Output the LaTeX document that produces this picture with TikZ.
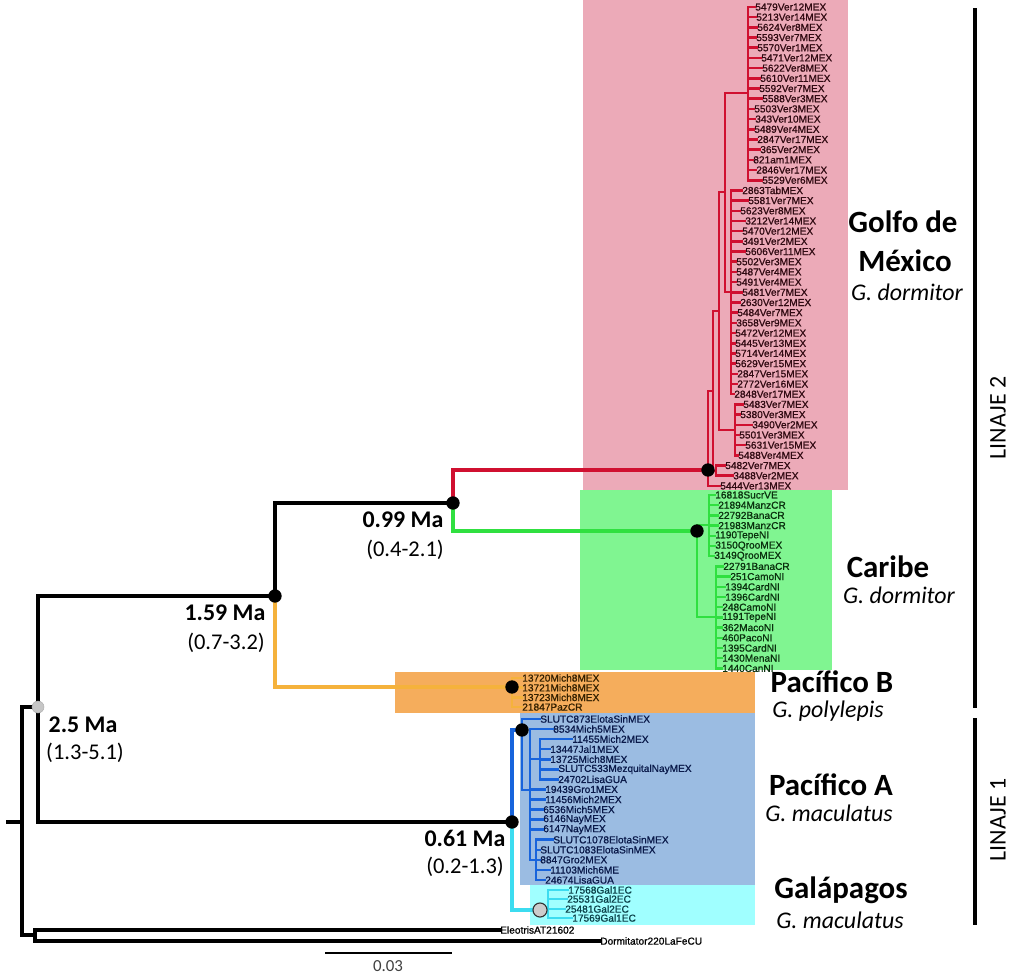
\documentclass[tikz,border=0pt]{standalone}
\usepackage{fontspec}
\setmainfont{Carlito}
\newfontfamily\tipfont[FakeBold=1]{Liberation Sans}
\usetikzlibrary{positioning}

\definecolor{golfobox}{HTML}{ECAAB8}
\definecolor{caribox}{HTML}{80F591}
\definecolor{pacbbox}{HTML}{F5AD5C}
\definecolor{pacabox}{HTML}{9BBCE2}
\definecolor{galbox}{HTML}{A0FFFF}
\definecolor{golfobr}{HTML}{D01030}
\definecolor{caribr}{HTML}{30E040}
\definecolor{pacbbr}{HTML}{F5B23C}
\definecolor{pacabr}{HTML}{1864DC}
\definecolor{galbr}{HTML}{3CDCF0}
\definecolor{golfotxt}{HTML}{300A12}
\definecolor{caritxt}{HTML}{0A300E}
\definecolor{pacbtxt}{HTML}{332000}
\definecolor{pacatxt}{HTML}{0A1A4A}
\definecolor{galtxt}{HTML}{0A4048}

\begin{document}
\begin{tikzpicture}[
    x=0.025cm, y=-0.025cm,
    br/.style={line width=2.2pt, line cap=rect},
    tipbr/.style={line width=1.8pt, line cap=rect},
    tip/.style={anchor=west, inner sep=0pt,
                font=\tipfont\fontsize{7.2}{7.2}\selectfont},
    dot/.style={circle, fill=black, inner sep=0pt, minimum size=9.5pt},
    age/.style={font=\fontsize{17}{17}\selectfont\bfseries},
    hpd/.style={font=\fontsize{16}{16}\selectfont},
    clade/.style={inner sep=0pt, font=\fontsize{22}{22}\selectfont\bfseries},
    species/.style={inner sep=0pt, font=\fontsize{17}{17}\selectfont\itshape},
    linaje/.style={font=\fontsize{17}{17}\selectfont, rotate=90}
  ]
  \useasboundingbox (0,0) rectangle (1016,975);

  % clade boxes
  \fill[golfobox] (583,0) rectangle (848,490);
  \fill[caribox] (580,490) rectangle (832,670);
  \fill[pacbbox] (395,672) rectangle (755,713);
  \fill[pacabox] (520,713) rectangle (755,885);
  \fill[galbox] (530,885) rectangle (755,925);

  % main nodes
  \coordinate (nRoot) at (22,822);
  \coordinate (nIn) at (38,707);
  \coordinate (nOut) at (35,935);
  \coordinate (nL2) at (275,596);
  \coordinate (nGC) at (453,503);
  \coordinate (nGolfo) at (708,470);
  \coordinate (nCar) at (697,531);
  \coordinate (nPB) at (512,687);
  \coordinate (nL1) at (512,822);
  \coordinate (nPA) at (522,730);
  \coordinate (nGal) at (540,910);

  % backbone
  \draw[br] (8,822) -- (nRoot);
  \draw[br] (nIn) -| (nRoot);
  \draw[br] (nOut) -| (nRoot);
  \draw[br] (nIn) |- (nL2);
  \draw[br] (nIn) |- (nL1);
  \draw[br] (nL2) |- (nGC);
  \draw[br, pacbbr] (nL2) |- (nPB);
  \draw[br, golfobr] (nGC) |- (nGolfo);
  \draw[br, caribr] (nGC) |- (nCar);
  \draw[br, pacabr] (nL1) |- (nPA);
  \draw[br, galbr] (nL1) |- (nGal);

  % outgroups
  \node[tip] (tEleo) at (500,930) {EleotrisAT21602};
  \node[tip] (tDorm) at (600,941) {Dormitator220LaFeCU};
  \draw[br] (nOut) |- (tEleo.west);
  \draw[br] (nOut) |- (tDorm.west);

  % Golfo de Mexico
  \foreach \lab/\xs/\px [count=\i] in {
      5479Ver12MEX/755/748, 5213Ver14MEX/756/748, 5624Ver8MEX/757/748,
      5593Ver7MEX/756/748, 5570Ver1MEX/757/748, 5471Ver12MEX/761/748,
      5622Ver8MEX/762/748, 5610Ver11MEX/760/748, 5592Ver7MEX/759/748,
      5588Ver3MEX/762/748, 5503Ver3MEX/754/748, 343Ver10MEX/755/748,
      5489Ver4MEX/754/748, 2847Ver17MEX/757/748, 365Ver2MEX/760/748,
      821am1MEX/753/748, 2846Ver17MEX/756/748, 5529Ver6MEX/762/748,
      2863TabMEX/742/731, 5581Ver7MEX/748/731, 5623Ver8MEX/740/731,
      3212Ver14MEX/745/731, 5470Ver12MEX/742/731, 3491Ver2MEX/742/731,
      5606Ver11MEX/745/731, 5502Ver3MEX/736/731, 5487Ver4MEX/736/731,
      5491Ver4MEX/736/731, 5481Ver7MEX/742/731, 2630Ver12MEX/740/731,
      5484Ver7MEX/737/731, 3658Ver9MEX/736/731, 5472Ver12MEX/735/731,
      5445Ver13MEX/735/731, 5714Ver14MEX/735/731, 5629Ver15MEX/735/731,
      2847Ver15MEX/737/731, 2772Ver16MEX/737/731, 2848Ver17MEX/734/731,
      5483Ver7MEX/743/735, 5380Ver3MEX/740/735, 3490Ver2MEX/752/735,
      5501Ver3MEX/739/735, 5631Ver15MEX/745/735, 5488Ver4MEX/738/735,
      5482Ver7MEX/725/716, 3488Ver2MEX/733/716, 5444Ver13MEX/720/708} {
    \pgfmathsetmacro{\ypos}{7+10.19*(\i-1)}
    \node[tip, text=golfotxt] (gm\i) at (\xs,\ypos) {\lab};
    \draw[tipbr, golfobr] (\px,\ypos) -- (gm\i.west);
  }
  \draw[tipbr, golfobr] (748,7) -- (748,180) (731,190) -- (731,394)
    (748,93) -| (725,292) -- (731,292) (735,404) -- (735,455)
    (725,192) -| (719,430) -- (735,430) (716,466) -- (716,476)
    (719,311) -| (713,471) -- (716,471) (713,391) -| (708,486);

  % Caribe
  \foreach \lab/\xs/\px [count=\i] in {
      16818SucrVE/715/709, 21894ManzCR/718/709, 22792BanaCR/718/709,
      21983ManzCR/718/709, 1190TepeNI/715/709, 3150QrooMEX/715/709,
      3149QrooMEX/714/709, 22791BanaCR/723/716, 251CamoNI/730/716,
      1394CardNI/725/716, 1396CardNI/725/716, 248CamoNI/722/716,
      1191TepeNI/722/716, 362MacoNI/722/716, 460PacoNI/722/716,
      1395CardNI/722/716, 1430MenaNI/722/716, 1440CanNI/722/716} {
    \pgfmathsetmacro{\ypos}{495+10.2*(\i-1)}
    \node[tip, text=caritxt] (ca\i) at (\xs,\ypos) {\lab};
    \draw[tipbr, caribr] (\px,\ypos) -- (ca\i.west);
  }
  \draw[tipbr, caribr] (709,495) -- (709,556) (716,566) -- (716,668)
    (709,525) -| (697,617) -- (716,617);

  % Pacifico B
  \foreach \lab [count=\i] in {13720Mich8MEX, 13721Mich8MEX,
      13723Mich8MEX, 21847PazCR} {
    \pgfmathsetmacro{\ypos}{678+9.7*(\i-1)}
    \node[tip, text=pacbtxt] (pb\i) at (522,\ypos) {\lab};
    \draw[tipbr, pacbbr] (512,\ypos) -- (pb\i.west);
  }
  \draw[tipbr, pacbbr] (512,678) -- (512,707);

  % Pacifico A
  \foreach \lab/\xs/\px [count=\i] in {
      SLUTC873ElotaSinMEX/540/522, 8534Mich5MEX/553/530,
      11455Mich2MEX/572/540, 13447Jal1MEX/550/540, 13725Mich8MEX/550/540,
      SLUTC533MezquitalNayMEX/558/540, 24702LisaGUA/558/540,
      19439Gro1MEX/545/530, 11456Mich2MEX/545/530, 6536Mich5MEX/543/530,
      6146NayMEX/543/530, 6147NayMEX/543/530,
      SLUTC1078ElotaSinMEX/553/536, SLUTC1083ElotaSinMEX/540/536,
      8847Gro2MEX/540/536, 11103Mich6ME/550/536, 24674LisaGUA/545/536} {
    \pgfmathsetmacro{\ypos}{719+10.06*(\i-1)}
    \node[tip, text=pacatxt] (pa\i) at (\xs,\ypos) {\lab};
    \draw[tipbr, pacabr] (\px,\ypos) -- (pa\i.west);
  }
  \draw[tipbr, pacabr] (522,719) -- (522,790) -- (530,790)
    (530,729) -- (530,860) -- (536,860) (536,840) -- (536,880)
    (540,739) -- (540,779) (530,759) -- (540,759);

  % Galapagos
  \foreach \lab/\xs/\ypos [count=\i] in {17568Gal1EC/568/890,
      25531Gal2EC/567/899, 25481Gal2EC/565/909, 17569Gal1EC/572/918} {
    \node[tip, text=galtxt] (ga\i) at (\xs,\ypos) {\lab};
    \draw[tipbr, galbr] (548,\ypos) -- (ga\i.west);
  }
  \draw[tipbr, galbr] (548,890) -- (548,918) (nGal) -- (548,910);

  % node dots
  \foreach \n in {nL2, nGC, nGolfo, nCar, nPB, nL1, nPA}
    \node[dot] at (\n) {};
  \node[circle, fill=gray!45, draw=gray!60, inner sep=0pt,
        minimum size=8.5pt] at (nIn) {};
  \node[circle, fill=gray!40, draw=black!80, line width=0.8pt,
        inner sep=0pt, minimum size=10pt] at (nGal) {};

  % ages
  \node[age] (aGC) at (403,520) {0.99 Ma};
  \node[hpd] (hGC) at (405,550) {(0.4-2.1)};
  \node[age] (aL2) at (225,613) {1.59 Ma};
  \node[hpd] (hL2) at (226,643) {(0.7-3.2)};
  \node[age] (aIn) at (83,725) {2.5 Ma};
  \node[hpd] (hIn) at (85,753) {(1.3-5.1)};
  \node[age] (aL1) at (465,838) {0.61 Ma};
  \node[hpd] (hL1) at (465,867) {(0.2-1.3)};

  % clade names
  \node[clade] (cGolfo) at (903,222) {Golfo de};
  \node[clade] (cGolfo2) at (905,261) {México};
  \node[species] (sGolfo) at (907,292) {G. dormitor};
  \node[clade] (cCar) at (888,567) {Caribe};
  \node[species] (sCar) at (899,595) {G. dormitor};
  \node[clade] (cPB) at (832,682) {Pacífico B};
  \node[species] (sPB) at (828,711) {G. polylepis};
  \node[clade] (cPA) at (831,785) {Pacífico A};
  \node[species] (sPA) at (829,813) {G. maculatus};
  \node[clade] (cGal) at (841,890) {Galápagos};
  \node[species] (sGal) at (840,920) {G. maculatus};

  % lineages
  \draw[line width=3pt] (975,8) -- (975,708);
  \draw[line width=3pt] (975,718) -- (975,925);
  \node[linaje] (lin2) at (998,418) {LINAJE 2};
  \node[linaje] (lin1) at (998,820) {LINAJE 1};

  % scale
  \draw[line width=1.2pt] (325,953) -- (452,953);
  \node[font=\fontsize{12}{12}\selectfont, text=black!75] (scl) at (388,966) {0.03};
\end{tikzpicture}
\end{document}
